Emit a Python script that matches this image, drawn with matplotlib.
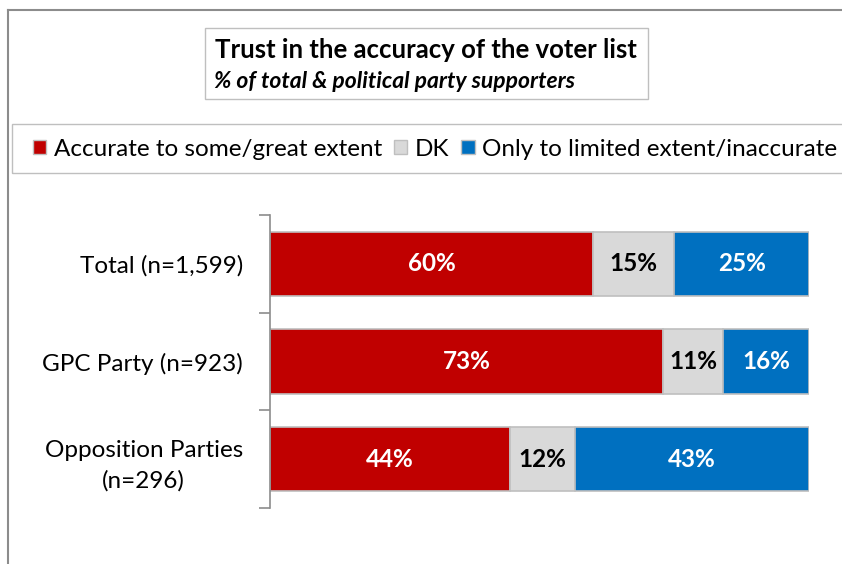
import matplotlib
matplotlib.use("Agg")
import matplotlib.pyplot as plt
from matplotlib.patches import Rectangle, Patch
from matplotlib.lines import Line2D
import numpy as np

categories = ["Total (n=1,599)", "GPC Party (n=923)", "Opposition Parties\n(n=296)"]
series_names = ["Accurate to some/great extent", "DK", "Only to limited extent/inaccurate"]
accurate = [60, 73, 44]
dk = [15, 11, 12]
limited = [25, 16, 43]
colors = ["#C00000", "#D9D9D9", "#0070C0"]
label_colors = ["white", "black", "white"]

plt.rcParams["font.family"] = ["Lato", "DejaVu Sans"]

fig = plt.figure(figsize=(8.42, 5.64), dpi=100)
W, H = 842, 564

def fx(px):
    return px / W

def fy(py):
    return 1 - py / H

# outer frame (left and top edges)
fig.add_artist(Line2D([fx(8), fx(8)], [fy(10), fy(564)], color="#8C8C8C", lw=1.5))
fig.add_artist(Line2D([fx(8), fx(842)], [fy(10), fy(10)], color="#8C8C8C", lw=1.5))

# title box
fig.add_artist(Rectangle((fx(205), fy(99)), fx(648) - fx(205), fy(28) - fy(99),
                         transform=fig.transFigure, fill=False, edgecolor="#BFBFBF", lw=1))
fig.text(fx(426), fy(50), "Trust in the accuracy of the voter list", ha="center", va="center",
         fontsize=18.5, fontweight="bold")
fig.text(fx(214), fy(82), "% of total & political party supporters", ha="left", va="center",
         fontsize=16.5, fontweight="bold", style="italic")

ax = fig.add_axes([fx(270), fy(508), fx(809) - fx(270), fy(215) - fy(508)])

# 100% stacked: each row is scaled by its total
data = np.array([accurate, dk, limited], dtype=float)
shares = data / data.sum(axis=0) * 100

y = np.arange(len(categories))
left = np.zeros(len(categories))
for vals, share, c, lc in zip(data, shares, colors, label_colors):
    ax.barh(y, share, left=left, height=0.66, color=c, edgecolor="#BFBFBF", lw=1.2)
    for yi, v, s, l in zip(y, vals, share, left):
        ax.text(l + s / 2, yi, f"{v:.0f}%", ha="center", va="center", color=lc,
                fontsize=17.5, fontweight="bold")
    left += share

ax.set_xlim(0, 100)
ax.set_ylim(2.5, -0.5)
ax.set_yticks(y)
ax.set_yticklabels(categories, fontsize=17.5)
ax.set_yticks(np.arange(-0.5, 3, 1), minor=True)
ax.tick_params(axis="y", which="major", length=0, pad=19.5)
ax.tick_params(axis="y", which="minor", length=8, color="#8C8C8C", width=1.2)
ax.set_xticks([])
for s in ["top", "right", "bottom"]:
    ax.spines[s].set_visible(False)
ax.spines["left"].set_color("#8C8C8C")
ax.spines["left"].set_linewidth(1.2)
for lbl in ax.get_yticklabels():
    lbl.set_multialignment("center")
    lbl.set_linespacing(1.55)

# legend box
fig.add_artist(Rectangle((fx(12), fy(173)), fx(900) - fx(12), fy(124) - fy(173),
                         transform=fig.transFigure, fill=False, edgecolor="#BFBFBF", lw=1))
handles = [Patch(facecolor=c, edgecolor="#BFBFBF") for c in colors]
fig.legend(handles, series_names, loc="center left", bbox_to_anchor=(fx(33), fy(149)),
           ncol=3, frameon=False, fontsize=17.5, handlelength=0.55, handleheight=0.55,
           handletextpad=0.3, columnspacing=0.5, borderpad=0, borderaxespad=0)

fig.savefig("out.png", dpi=100)
